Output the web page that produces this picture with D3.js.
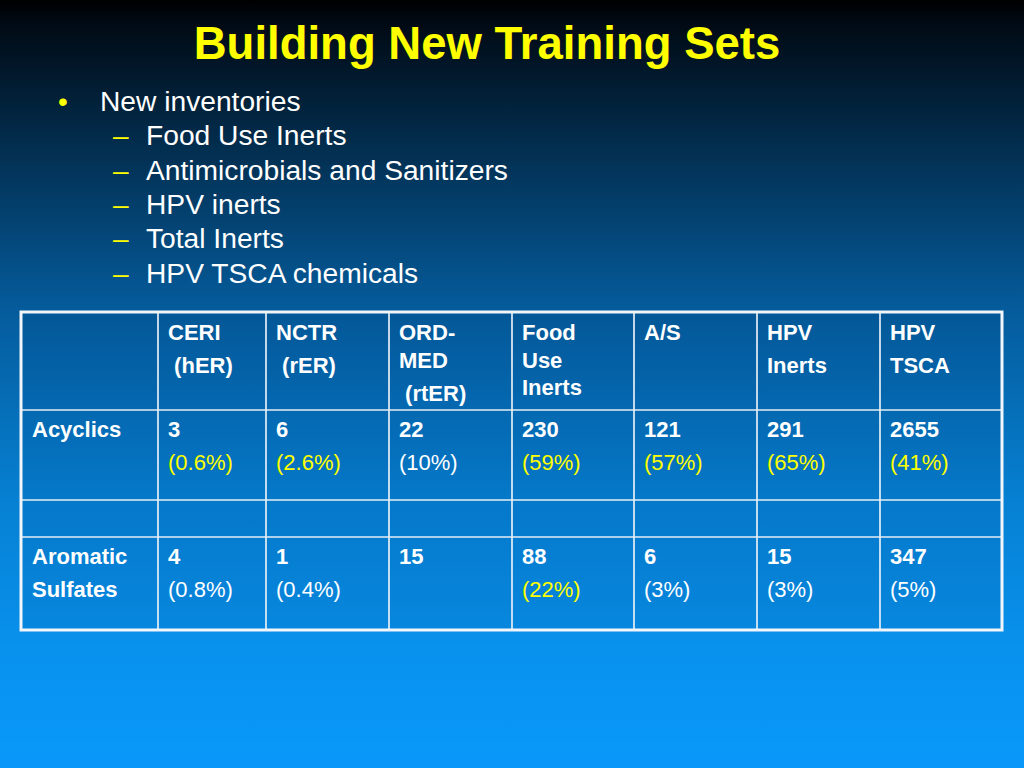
<!DOCTYPE html>
<html>
<head>
<meta charset="utf-8">
<script src="https://cdn.jsdelivr.net/npm/d3@7"></script>
<style>
  html, body { margin: 0; padding: 0; background: #000; }
  svg { display: block; }
  text { font-family: "Liberation Sans", Arial, sans-serif; white-space: pre; }
</style>
</head>
<body>
<div id="main"></div>
<script>
// slide text
const title = 'Building New Training Sets';
const topBullet = 'New inventories';
const subBullets = ['Food Use Inerts', 'Antimicrobials and Sanitizers', 'HPV inerts', 'Total Inerts', 'HPV TSCA chemicals'];

// table header: each column is a list of paragraphs, each paragraph a list of wrapped lines
const headers = [
  [],
  [['CERI'], [' (hER)']],
  [['NCTR'], [' (rER)']],
  [['ORD-', 'MED'], [' (rtER)']],
  [['Food', 'Use', 'Inerts']],
  [['A/S']],
  [['HPV'], ['Inerts']],
  [['HPV'], ['TSCA']]
];

const rowLabels = [['Acyclics'], [], ['Aromatic', 'Sulfates']];

const acyclicCounts = ['3', '6', '22', '230', '121', '291', '2655'];
const acyclicPct = ['(0.6%)', '(2.6%)', '(10%)', '(59%)', '(57%)', '(65%)', '(41%)'];
const acyclicHighlight = [true, true, false, true, true, true, true];

const aromaticCounts = ['4', '1', '15', '88', '6', '15', '347'];
const aromaticPct = ['(0.8%)', '(0.4%)', '', '(22%)', '(3%)', '(3%)', '(5%)'];
const aromaticHighlight = [false, false, false, true, false, false, false];

const w = 1024;
const h = 768;
const yellow = '#ffff00';

const svg = d3.select('#main').
append('svg').
attr('width', w).
attr('height', h);

// background gradient
const defs = svg.append('defs');
const grad = defs.append('linearGradient').
attr('id', 'bg').
attr('x1', 0).attr('y1', 0).attr('x2', 0).attr('y2', 1);
[[0, '#000000'], [0.03, '#010a14'], [0.15, '#022540'], [0.4, '#055b9b'], [0.65, '#0680d2'], [0.85, '#0892ee'], [1, '#0998fa']].forEach(s => {
  grad.append('stop').attr('offset', s[0]).attr('stop-color', s[1]);
});
svg.append('rect').
attr('width', w).
attr('height', h).
attr('fill', 'url(#bg)');

// title
svg.append('text').
attr('x', 487).
attr('y', 59).
attr('text-anchor', 'middle').
attr('font-size', '45.5px').
attr('font-weight', 'bold').
attr('fill', yellow).
text(title);

// bullet list
const lineY = d3.scaleLinear().domain([0, 1]).range([111, 145.3]);

svg.append('text').
attr('x', 58).
attr('y', lineY(0)).
attr('font-size', '28px').
attr('fill', yellow).
text('•');
svg.append('text').
attr('x', 100).
attr('y', lineY(0)).
attr('font-size', '28.2px').
attr('fill', '#fff').
text(topBullet);

const sub = svg.selectAll('g.sub').
data(subBullets).
enter().
append('g').
attr('class', 'sub').
attr('transform', (d, i) => `translate(0,${lineY(i + 1)})`);
sub.append('text').
attr('x', 113).
attr('font-size', '28px').
attr('fill', yellow).
text('–');
sub.append('text').
attr('x', 146).
attr('font-size', '28.2px').
attr('fill', '#fff').
text(d => d);

// table layout
const colWeights = [137, 108, 123, 123, 122, 123, 123, 122];
const rowWeights = [98, 90, 37, 93];
const tableLeft = 21, tableTop = 312;

const colX = d3.scaleLinear().domain([0, d3.sum(colWeights)]).range([tableLeft, 1002]);
const rowY = d3.scaleLinear().domain([0, d3.sum(rowWeights)]).range([tableTop, 630]);
const colEdges = d3.cumsum([0].concat(colWeights)).map(colX);
const rowEdges = d3.cumsum([0].concat(rowWeights)).map(rowY);

const table = svg.append('g').attr('id', 'table');

// slightly darker cell fill
table.append('rect').
attr('x', colEdges[0]).
attr('y', rowEdges[0]).
attr('width', colEdges[colEdges.length - 1] - colEdges[0]).
attr('height', rowEdges[rowEdges.length - 1] - rowEdges[0]).
attr('fill', '#002050').
attr('fill-opacity', 0.07);

// inner grid lines
table.selectAll('line.v').
data(colEdges.slice(1, -1)).
enter().
append('line').
attr('x1', d => d).attr('x2', d => d).
attr('y1', rowEdges[0]).attr('y2', rowEdges[rowEdges.length - 1]).
attr('stroke', '#e6eef6').
attr('stroke-width', 1.7);
table.selectAll('line.h').
data(rowEdges.slice(1, -1)).
enter().
append('line').
attr('y1', d => d).attr('y2', d => d).
attr('x1', colEdges[0]).attr('x2', colEdges[colEdges.length - 1]).
attr('stroke', '#e6eef6').
attr('stroke-width', 1.7);
// outer frame
table.append('rect').
attr('x', colEdges[0]).
attr('y', rowEdges[0]).
attr('width', colEdges[colEdges.length - 1] - colEdges[0]).
attr('height', rowEdges[rowEdges.length - 1] - rowEdges[0]).
attr('fill', 'none').
attr('stroke', '#f2f6fa').
attr('stroke-width', 3);

const padX = 10;
const firstBase = 28;
const paraGap = 33;
const wrapGap = 27.5;
const fs = '22px';

function cellText(x, y, str, bold, color) {
  table.append('text').
  attr('x', x).
  attr('y', y).
  attr('font-size', fs).
  attr('font-weight', bold ? 'bold' : 'normal').
  attr('fill', color).
  text(str);
}

// header cells
headers.forEach((paras, c) => {
  let y = rowEdges[0] + firstBase;
  paras.forEach((lines, p) => {
    if (p > 0) y += paraGap - wrapGap;
    lines.forEach((ln, k) => {
      if (p > 0 || k > 0) y += wrapGap;
      cellText(colEdges[c] + padX, y, ln, true, '#fff');
    });
  });
});

// row labels
rowLabels.forEach((lines, r) => {
  lines.forEach((ln, k) => {
    cellText(colEdges[0] + padX + 1, rowEdges[r + 1] + firstBase - 1 + k * paraGap, ln, true, '#fff');
  });
});

// data rows
const dataRows = [
  { row: 1, counts: acyclicCounts, pct: acyclicPct, hi: acyclicHighlight },
  { row: 3, counts: aromaticCounts, pct: aromaticPct, hi: aromaticHighlight }
];
dataRows.forEach(dr => {
  const y0 = rowEdges[dr.row] + firstBase - 1;
  dr.counts.forEach((v, i) => {
    cellText(colEdges[i + 1] + padX, y0, v, true, '#fff');
    if (dr.pct[i]) cellText(colEdges[i + 1] + padX, y0 + paraGap, dr.pct[i], false, dr.hi[i] ? yellow : '#fff');
  });
});
</script>
</body>
</html>
